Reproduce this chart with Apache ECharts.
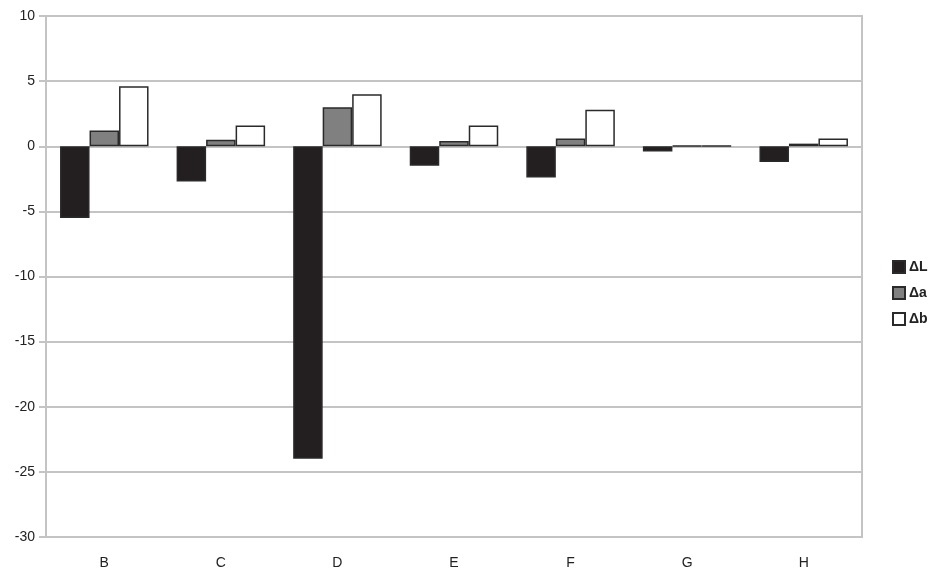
<!DOCTYPE html>
<html><head><meta charset="utf-8">
<script src="https://cdn.jsdelivr.net/npm/echarts@6/dist/echarts.min.js"></script>
<style>html,body{margin:0;padding:0;background:#fff}#c{width:933px;height:572px}</style>
</head><body><div id="c"></div>
<script>
const categories = ['B','C','D','E','F','G','H'];
const seriesNames = ['ΔL','Δa','Δb'];
const dL = [-5.5, -2.7, -24.0, -1.5, -2.4, -0.4, -1.2];
const dA = [1.2, 0.5, 3.0, 0.4, 0.6, 0.03, 0.2];
const dB = [4.6, 1.6, 4.0, 1.6, 2.8, 0.03, 0.6];
const yTicks = {min: -30, max: 10, interval: 5};

const colors = ['#231f20', '#808080', '#ffffff'];
const chart = echarts.init(document.getElementById('c'));
const mk = (name, data, i) => ({
  name, type: 'bar', data, barWidth: 29.5, barGap: '0%',
  itemStyle: {color: colors[i], borderColor: '#2a2a2a', borderWidth: 1.5},
  emphasis: {disabled: true}
});
const font = 'Liberation Sans, Arial';
chart.setOption({
  animation: false,
  grid: {left: 46, right: 71, top: 16, bottom: 35, show: true, borderColor: '#c4c4c4', borderWidth: 2},
  legend: {
    orient: 'vertical', left: 887, top: 255, itemWidth: 12, itemHeight: 12, itemGap: 12,
    icon: 'rect',
    textStyle: {fontFamily: font, fontSize: 14, color: '#222', fontWeight: 'bold', padding: [0,0,0,-1]},
    data: seriesNames
  },
  xAxis: {
    type: 'category', data: categories,
    axisLine: {lineStyle: {color: '#c4c4c4', width: 2}},
    axisTick: {alignWithLabel: true, length: 5, lineStyle: {color: '#aaa'}},
    axisLabel: {fontFamily: font, fontSize: 14, color: '#222', margin: 19}
  },
  yAxis: {
    type: 'value', min: yTicks.min, max: yTicks.max, interval: yTicks.interval,
    axisLine: {show: true, lineStyle: {color: '#c4c4c4', width: 2}},
    axisTick: {show: true, length: 7, lineStyle: {color: '#c4c4c4', width: 2}},
    splitLine: {lineStyle: {color: '#c4c4c4', width: 2}},
    axisLabel: {fontFamily: font, fontSize: 14, color: '#222', margin: 11}
  },
  series: [mk(seriesNames[0], dL, 0), mk(seriesNames[1], dA, 1), mk(seriesNames[2], dB, 2)]
});
</script></body></html>
